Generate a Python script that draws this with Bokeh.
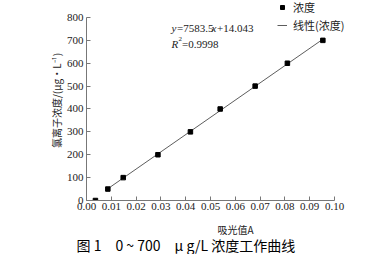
import numpy as np
from bokeh.plotting import figure
from bokeh.models import Range1d, FixedTicker, NumeralTickFormatter, Label, Title, Legend, LegendItem
from bokeh.embed import file_html
from bokeh.resources import INLINE

absorbance = [0.0036, 0.0086, 0.0148, 0.0288, 0.0419, 0.0539, 0.0680, 0.0810, 0.0953]
concentration = [0, 50, 100, 200, 300, 400, 500, 600, 700]
x_ticks = [0.00, 0.01, 0.02, 0.03, 0.04, 0.05, 0.06, 0.07, 0.08, 0.09, 0.10]
y_ticks = [0, 100, 200, 300, 400, 500, 600, 700, 800]

SERIF = "Liberation Serif"
CJK = "Noto Sans CJK SC"

# frame extends to the top/right canvas edge so the legend is not clipped;
# axis lines are limited with bounds to the tick span
p = figure(width=384, height=254, output_backend="svg", toolbar_location=None,
           x_range=Range1d(0, 0.12016), y_range=Range1d(0, 874.3),
           min_border_left=86, min_border_right=0, min_border_top=0, min_border_bottom=54)
p.frame_width = 298
p.frame_height = 200
p.outline_line_color = None
p.grid.visible = False
p.background_fill_color = "white"
p.border_fill_color = "white"

for ax in (p.xaxis[0], p.yaxis[0]):
    ax.axis_line_color = "#777777"
    ax.major_tick_line_color = "#777777"
    ax.major_tick_in = 4
    ax.major_tick_out = 0
    ax.minor_tick_line_color = None
    ax.major_label_text_font = SERIF
    ax.major_label_text_font_size = "11px"
    ax.major_label_text_color = "#222222"
    ax.axis_label_text_font = CJK
    ax.axis_label_text_font_size = "10px"
    ax.axis_label_text_font_style = "normal"
    ax.axis_label_text_color = "#222222"

p.xaxis.ticker = FixedTicker(ticks=x_ticks)
p.xaxis.formatter = NumeralTickFormatter(format="0.00")
p.xaxis.bounds = (x_ticks[0], x_ticks[-1])
p.yaxis.ticker = FixedTicker(ticks=y_ticks)
p.yaxis.bounds = (y_ticks[0], y_ticks[-1])
p.xaxis.major_label_standoff = 2
p.yaxis.major_label_standoff = 3
p.xaxis.axis_label = "吸光值A"
p.xaxis.axis_label_standoff = 9
p.yaxis.axis_label = "氯离子浓度/(μg·L⁻¹)"
p.yaxis.axis_label_standoff = 0

# linear fit through calibration points (excluding blank)
xs = np.array(absorbance[1:])
ys = np.array(concentration[1:])
k, b = np.polyfit(xs, ys, 1)
fit_x = [xs.min(), xs.max()]
fit_y = [k * fit_x[0] + b, k * fit_x[1] + b]

line_r = p.line(fit_x, fit_y, line_color="#333333", line_width=0.8)
pts_r = p.scatter(absorbance, concentration, marker="square", size=4.5,
                  fill_color="black", line_color="black")

legend = Legend(items=[LegendItem(label="浓度", renderers=[pts_r]),
                       LegendItem(label="线性(浓度)", renderers=[line_r])],
                location=(191, 167), border_line_color=None, background_fill_alpha=0,
                glyph_width=10, glyph_height=10, label_text_font=CJK,
                label_text_font_size="11px", spacing=2, padding=0, margin=0,
                label_standoff=6, label_height=12, label_text_color="#222222")
p.add_layout(legend)

# equation
eq_y = 752
parts = [("y", "italic", 0), ("=7583.5", "normal", 5.5), ("x", "italic", 40), ("+14.043", "normal", 45.5)]
for txt, style, off in parts:
    p.add_layout(Label(x=0.0343, y=eq_y, text=txt, x_offset=off, text_font=SERIF,
                       text_font_style=style, text_font_size="11px", text_baseline="middle",
                       text_color="#222222"))
r2_y = 686
p.add_layout(Label(x=0.0343, y=r2_y, text="R", text_font=SERIF, text_font_style="italic",
                   text_font_size="11px", text_baseline="middle", text_color="#222222"))
p.add_layout(Label(x=0.0343, y=r2_y, x_offset=7, y_offset=5, text="2", text_font=SERIF,
                   text_font_size="7px", text_baseline="middle", text_color="#222222"))
p.add_layout(Label(x=0.0343, y=r2_y, x_offset=10.5, text="=0.9998", text_font=SERIF,
                   text_font_size="11px", text_baseline="middle", text_color="#222222"))

cap = Title(text="图 1　0 ~ 700　μ g/L 浓度工作曲线", align="left", offset=-10,
            text_font=CJK, text_font_size="14px", text_font_style="normal",
            text_color="black", standoff=-14)
p.add_layout(cap, "below")

open("out.html", "w").write(file_html(p, INLINE))
